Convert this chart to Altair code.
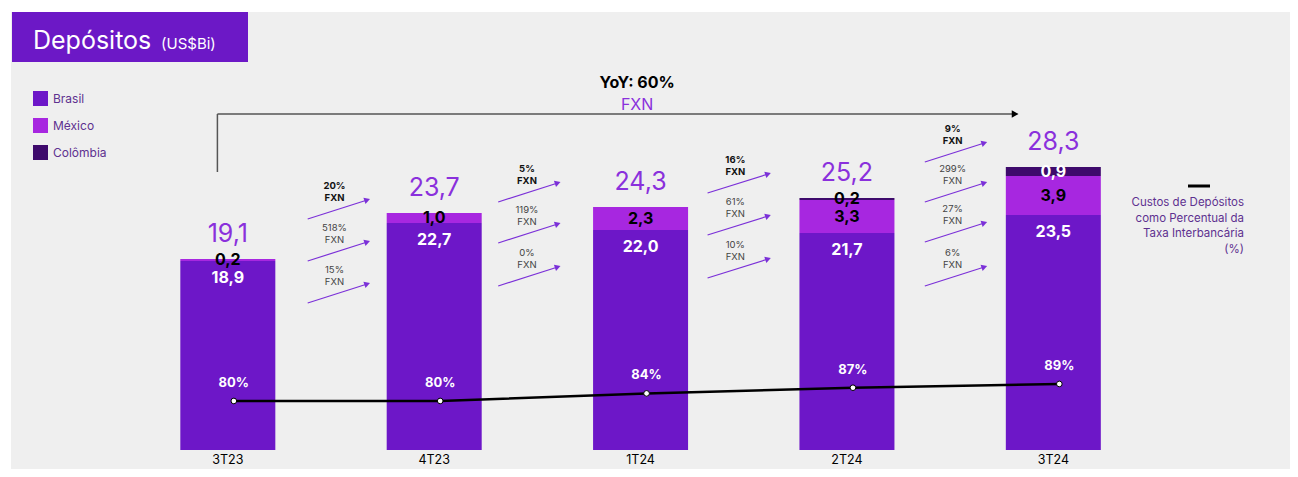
import altair as alt
import pandas as pd

# ---------------- data ----------------
quarters = ["3T23", "4T23", "1T24", "2T24", "3T24"]
brasil = [18.9, 22.7, 22.0, 21.7, 23.5]
mexico = [0.2, 1.0, 2.3, 3.3, 3.9]
colombia = [0.0, 0.0, 0.0, 0.2, 0.9]
totals = [19.1, 23.7, 24.3, 25.2, 28.3]
cost_pct = [80, 80, 84, 87, 89]
series = ["Brasil", "México", "Colômbia"]
series_colors = ["#6d17c8", "#a727e0", "#3e0a6c"]
growth_total = ["20%", "5%", "16%", "9%"]
growth_parts = [["518%", "15%"], ["119%", "0%"], ["61%", "10%"], ["299%", "27%", "6%"]]
yoy_text = "YoY: 60%"
cost_legend = "Custos de Depósitos\ncomo Percentual da\nTaxa Interbancária\n(%)"

FONT = "Inter"
PURPLE_TXT = "#8a30dc"
ARROW = "#7b30d8"

# ---------------- layout ----------------
W, H = 1279, 457
XDOM = [-1.0264, 5.1226]
YDOM = [-1.9, 43.8]
PDOM = [44.0, 285.8]


def fx(px):  # page pixel -> category index
    return (px - 224.5) / 208


def fy(py):  # page pixel -> deposit units
    return (450 - py) / 10


def X(f):
    return alt.X(f"{f}:Q", scale=alt.Scale(domain=XDOM, nice=False, zero=False), axis=None)


def Y(f, dom=YDOM):
    return alt.Y(f"{f}:Q", scale=alt.Scale(domain=dom, nice=False, zero=False), axis=None)


# stacked bars
rows = []
for i, q in enumerate(quarters):
    base = 0.0
    for s, vals in zip(series, [brasil, mexico, colombia]):
        v = vals[i]
        if v > 0:
            top = base + v
            if s == "Brasil":
                ly, lc = top - 1.7, "white"
            elif s == "México":
                ly, lc = (base + top) / 2, "black"
            else:
                ly, lc = (base + top) / 2, ("white" if v >= 0.5 else "black")
            rows.append(dict(i=i, q=q, s=s, v=v, y0=base, y1=top, ly=ly, lc=lc,
                             lbl=f"{v:.1f}".replace(".", ",")))
            base = top
bars = pd.DataFrame(rows)

tot = pd.DataFrame(dict(i=range(5), t=totals, lbl=[f"{t:.1f}".replace(".", ",") for t in totals]))
line = pd.DataFrame(dict(i=range(5), p=cost_pct, lbl=[f"{p}%" for p in cost_pct]))
xl = pd.DataFrame(dict(i=range(5), q=quarters, y=[fy(460)] * 5))

# growth arrows between quarters (page-pixel geometry of annotations)
gap_geom = [(305, 365, 332, [200, 242, 284]),
            (497, 557, 526, [183, 224, 267]),
            (708, 769, 736, [174, 216, 259]),
            (927, 987, 955, [143, 183, 223, 267])]
arr_rows, txt_rows = [], []
for g, (sx, ex, lx, ends) in enumerate(gap_geom):
    labels = [growth_total[g]] + growth_parts[g]
    for k, (ey, lab) in enumerate(zip(ends, labels)):
        arr_rows.append(dict(x0=fx(sx), y0=fy(ey + 19), x1=fx(ex), y1=fy(ey)))
        b = k == 0
        txt_rows.append(dict(x=fx(lx), y=fy(ey - 14), t=lab, b=b))
        txt_rows.append(dict(x=fx(lx), y=fy(ey - 2), t="FXN", b=b))
arrows = pd.DataFrame(arr_rows)
atext = pd.DataFrame(txt_rows)

bracket = pd.DataFrame([dict(x0=fx(214), y0=fy(172), x1=fx(214), y1=fy(114)),
                        dict(x0=fx(214), y0=fy(114), x1=fx(1016), y1=fy(114))])
bracket_head = pd.DataFrame([dict(x=fx(1018), y=fy(114))])
yoy = pd.DataFrame([dict(x=fx(637), y=fy(83), t=yoy_text)])
yoy2 = pd.DataFrame([dict(x=fx(637), y=fy(105), t="FXN")])
one = pd.DataFrame({"a": [0]})

layers = []

# title box
layers.append(alt.Chart(one).mark_rect(color="#6c18c6").encode(
    x=alt.value(1), x2=alt.value(237), y=alt.value(0), y2=alt.value(50)))
layers.append(alt.Chart(one).mark_text(text="Depósitos", font=FONT, fontSize=25, color="white",
                                       align="left", baseline="alphabetic").encode(
    x=alt.value(22), y=alt.value(37)))
layers.append(alt.Chart(one).mark_text(text="(US$Bi)", font=FONT, fontSize=15, color="white",
                                       align="left", baseline="alphabetic").encode(
    x=alt.value(150), y=alt.value(37)))

# bars
layers.append(alt.Chart(bars).mark_bar(size=95).encode(
    x=X("i"), y=Y("y0"), y2=alt.Y2("y1"),
    color=alt.Color("s:N", scale=alt.Scale(domain=series, range=series_colors),
                    legend=alt.Legend(title=None, orient="none", legendX=22, legendY=79,
                                      direction="vertical", symbolType="square",
                                      symbolSize=225, symbolStrokeWidth=0, symbolOpacity=1,
                                      labelFont=FONT, labelFontSize=12, labelColor="#5e3190",
                                      labelOffset=5, rowPadding=12, padding=0))))

# segment labels
layers.append(alt.Chart(bars).mark_text(font=FONT, fontSize=16, fontWeight="bold",
                                        baseline="middle").encode(
    x=X("i"), y=Y("ly"), text="lbl:N", color=alt.Color("lc:N", scale=None)))

# totals
layers.append(alt.Chart(tot).mark_text(font=FONT, fontSize=25, color=PURPLE_TXT,
                                       baseline="middle", dy=-25).encode(
    x=X("i"), y=Y("t"), text="lbl:N"))

# cost line (drawn slightly right of bar centres, as in the original)
layers.append(alt.Chart(line).mark_line(color="black", strokeWidth=2.5, xOffset=6).encode(
    x=X("i"), y=Y("p", PDOM)))
layers.append(alt.Chart(line).mark_point(filled=True, fill="white", stroke="black",
                                         strokeWidth=1, size=32, opacity=1, xOffset=6).encode(
    x=X("i"), y=Y("p", PDOM)))
layers.append(alt.Chart(line).mark_text(font=FONT, fontSize=13, fontWeight="bold",
                                        color="white", baseline="middle", dy=-18, dx=6).encode(
    x=X("i"), y=Y("p", PDOM), text="lbl:N"))

# x labels
layers.append(alt.Chart(xl).mark_text(font=FONT, fontSize=12.5, color="black",
                                      baseline="middle").encode(
    x=X("i"), y=Y("y"), text="q:N"))

# growth arrows
layers.append(alt.Chart(arrows).mark_rule(color=ARROW, strokeWidth=1.2).encode(
    x=X("x0"), y=Y("y0"), x2=alt.X2("x1"), y2=alt.Y2("y1")))
layers.append(alt.Chart(arrows).mark_point(shape="triangle-right", angle=342, filled=True,
                                           size=45, color=ARROW, opacity=1).encode(
    x=X("x1"), y=Y("y1")))
layers.append(alt.Chart(atext).transform_filter("datum.b").mark_text(
    font=FONT, fontSize=9.5, fontWeight="bold", color="#111", baseline="middle").encode(
    x=X("x"), y=Y("y"), text="t:N"))
layers.append(alt.Chart(atext).transform_filter("!datum.b").mark_text(
    font=FONT, fontSize=9.5, color="#444", baseline="middle").encode(
    x=X("x"), y=Y("y"), text="t:N"))

# YoY bracket
layers.append(alt.Chart(bracket).mark_rule(color="#555", strokeWidth=1.5).encode(
    x=X("x0"), y=Y("y0"), x2=alt.X2("x1"), y2=alt.Y2("y1")))
layers.append(alt.Chart(bracket_head).mark_point(shape="triangle-right", filled=True,
                                                 size=60, color="black", opacity=1).encode(
    x=X("x"), y=Y("y")))
layers.append(alt.Chart(yoy).mark_text(font=FONT, fontSize=16, fontWeight="bold",
                                       color="black", baseline="middle").encode(
    x=X("x"), y=Y("y"), text="t:N"))
layers.append(alt.Chart(yoy2).mark_text(font=FONT, fontSize=16, color=PURPLE_TXT,
                                        baseline="middle").encode(
    x=X("x"), y=Y("y"), text="t:N"))

# right-side line legend
layers.append(alt.Chart(one).mark_rule(color="black", strokeWidth=3).encode(
    x=alt.value(1177), x2=alt.value(1199), y=alt.value(174)))
layers.append(alt.Chart(one).mark_text(text=cost_legend, lineBreak="\n", lineHeight=15.7,
                                       font=FONT, fontSize=11.5, color="#5e3190",
                                       align="right", baseline="middle").encode(
    x=alt.value(1233), y=alt.value(191)))

chart = alt.layer(*layers).properties(
    width=W, height=H, background="white",
    padding={"left": 3, "top": 4, "right": 0, "bottom": 0},
    autosize=alt.AutoSizeParams(type="none"),
).resolve_scale(y="independent").configure_view(stroke=None, fill="#efefef")

chart.save("out.html", embed_options={"renderer": "svg", "actions": False})
